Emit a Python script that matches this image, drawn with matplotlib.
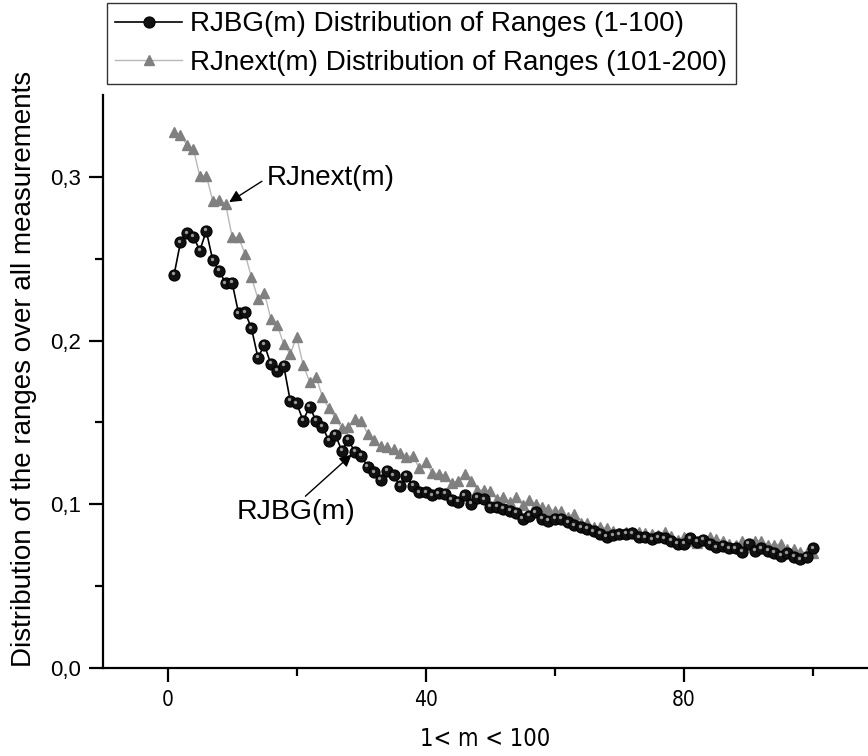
import matplotlib
matplotlib.use("Agg")
import matplotlib.pyplot as plt
import matplotlib.transforms as mtransforms
import numpy as np

plt.rcParams['font.family'] = ['Liberation Sans', 'DejaVu Sans']

# m = 1..100
m = np.arange(1, 101)

rjbg = [0.240, 0.260, 0.2655, 0.2635, 0.255, 0.267, 0.249, 0.2425, 0.235, 0.2354,
        0.2167, 0.2173, 0.2075, 0.1896, 0.1973, 0.1857, 0.1814, 0.1845, 0.1633, 0.1617,
        0.1511, 0.1596, 0.1511, 0.1474, 0.1387, 0.1423, 0.1327, 0.1393, 0.1321, 0.1295,
        0.1230, 0.1196, 0.1150, 0.1203, 0.1176, 0.1114, 0.1173, 0.1112, 0.1072, 0.1072,
        0.1056, 0.1067, 0.1063, 0.1026, 0.1016, 0.1055, 0.1002, 0.1040, 0.1031, 0.0983,
        0.0985, 0.0971, 0.0961, 0.0949, 0.0912, 0.0930, 0.0951, 0.0910, 0.0900, 0.0910,
        0.0910, 0.0890, 0.0872, 0.0860, 0.0850, 0.0835, 0.0819, 0.0802, 0.0810, 0.0817,
        0.0820, 0.0823, 0.0798, 0.0798, 0.0786, 0.0798, 0.0792, 0.0778, 0.0758, 0.0758,
        0.0792, 0.0772, 0.0782, 0.0758, 0.0737, 0.0745, 0.0731, 0.0731, 0.0709, 0.0758,
        0.0717, 0.0731, 0.0717, 0.0705, 0.0684, 0.0700, 0.0680, 0.0664, 0.0680, 0.0731]

rjnext = [0.3272, 0.3256, 0.3195, 0.3170, 0.3003, 0.3008, 0.2854, 0.2857, 0.2832, 0.2635,
          0.2630, 0.2530, 0.2386, 0.2256, 0.2293, 0.2131, 0.2095, 0.1977, 0.1918, 0.2024,
          0.1851, 0.1749, 0.1780, 0.1654, 0.1586, 0.1525, 0.1464, 0.1474, 0.1519, 0.1511,
          0.1429, 0.1393, 0.1356, 0.1348, 0.1336, 0.1315, 0.1291, 0.1295, 0.1220, 0.1260,
          0.1193, 0.1185, 0.1173, 0.1128, 0.1144, 0.1184, 0.1144, 0.1090, 0.1085, 0.1080,
          0.1032, 0.1043, 0.1016, 0.1043, 0.0996, 0.1026, 0.1002, 0.0982, 0.0970, 0.0961,
          0.0961, 0.0924, 0.0941, 0.0884, 0.0884, 0.0863, 0.0863, 0.0853, 0.0839, 0.0823,
          0.0828, 0.0833, 0.0833, 0.0823, 0.0819, 0.0811, 0.0833, 0.0806, 0.0782, 0.0802,
          0.0778, 0.0766, 0.0782, 0.0802, 0.0786, 0.0778, 0.0758, 0.0750, 0.0778, 0.0758,
          0.0778, 0.0778, 0.0750, 0.0750, 0.0758, 0.0725, 0.0725, 0.0711, 0.0705, 0.0705]

xticks = [0, 40, 80]
yticks = [0.0, 0.1, 0.2, 0.3]
ytick_labels = ['0,0', '0,1', '0,2', '0,3']

fig = plt.figure(figsize=(8.68, 7.56), dpi=100)
ax = fig.add_axes([103/868, 1-668/756, 1-103/868, (668-95)/756])

ax.plot(m, rjnext, color='#b8b8b8', lw=1.0, marker='^', ms=7.5,
        mfc='#808080', mec='#808080', label='RJnext(m) Distribution of Ranges (101-200)', zorder=2)
ax.plot(m, rjbg, color='black', lw=1.2, marker='o', ms=8,
        mfc='#111111', mec='black', mew=0.8, label='RJBG(m) Distribution of Ranges (1-100)', zorder=3)
# little highlight on the black balls
shine = mtransforms.offset_copy(ax.transData, fig=fig, x=-1.2, y=1.6, units='dots')
ax.plot(m, rjbg, ls='none', marker='o', ms=2.4, mfc='#9a9a9a', mec='none',
        transform=shine, zorder=4)

ax.set_xlim(-10, 108.5)
ax.set_ylim(0, 0.35)

for s in ['top', 'right']:
    ax.spines[s].set_visible(False)
for s in ['left', 'bottom']:
    ax.spines[s].set_linewidth(1.6)

ax.set_xticks(xticks)
ax.set_xticks([20, 60, 100], minor=True)
ax.set_yticks(yticks)
ax.set_yticklabels(ytick_labels)
ax.set_yticks([0.05, 0.15, 0.25], minor=True)
ax.tick_params(which='major', length=10, width=1.6, direction='out', pad=6)
ax.tick_params(which='minor', length=6, width=1.6, direction='out')
ax.tick_params(axis='y', labelsize=16)
for lab in ax.get_xticklabels():
    lab.set_family('DejaVu Sans')
    lab.set_stretch('condensed')
    lab.set_fontsize(15)

ax.set_xlabel('1< m < 100', family='DejaVu Sans', fontstretch='condensed',
              fontsize=17, labelpad=12)
ax.set_ylabel('Distribution of the ranges over all measurements', fontsize=20)
ax.yaxis.set_label_coords(-0.086, 0.522)

ax.annotate('RJnext(m)', xy=(m[8], rjnext[8]), xytext=(267, 756 - 178), textcoords='figure pixels',
            fontsize=20, va='center', ha='left',
            arrowprops=dict(arrowstyle='-|>', color='black', lw=1.0, mutation_scale=18,
                            shrinkA=2, shrinkB=3, relpos=(0.0, 0.5)))
ax.annotate('RJBG(m)', xy=(m[28], rjbg[28]), xytext=(237, 756 - 512), textcoords='figure pixels',
            fontsize=20.5, va='center', ha='left',
            arrowprops=dict(arrowstyle='-|>', color='black', lw=1.0, mutation_scale=18,
                            shrinkA=0, shrinkB=3, relpos=(0.55, 1.0)))

h, l = ax.get_legend_handles_labels()
leg = fig.legend(h[::-1], l[::-1], loc='upper left', bbox_to_anchor=(107/868, 1-3/756),
                 fontsize=20, frameon=True, fancybox=False, edgecolor='black',
                 handlelength=2.4, handletextpad=0.3, borderpad=0.3, labelspacing=0.45,
                 borderaxespad=0)
leg.get_frame().set_linewidth(1.0)

fig.savefig('out.png', dpi=100)
